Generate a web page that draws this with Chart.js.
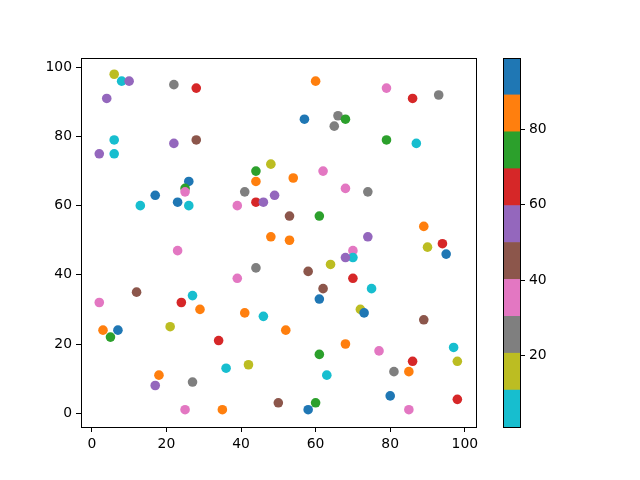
<!DOCTYPE html>
<html lang="en">
<head>
  <meta charset="UTF-8">
  <title>Scatter with colorbar</title>
  <script src="https://cdn.jsdelivr.net/npm/chart.js@4.4.1/dist/chart.umd.min.js"></script>
  <style>
    body { margin: 0; background: #fff; }
    #wrap { position: relative; width: 640px; height: 480px; }
    #wrap canvas { position: absolute; left: 0; top: 0; }
  </style>
</head>
<body>
<div id="wrap">
  <canvas id="scatter" width="640" height="480"></canvas>
  <canvas id="cbar" width="640" height="480"></canvas>
</div>
<script>
// point data (x, y, colour value)
const xVals = [6, 8, 10, 4, 22, 28, 2, 6, 6, 22, 28, 48, 44, 44, 26, 25, 25, 17, 13, 23,
  26, 41, 49, 44, 46, 39, 54, 53, 61, 62, 74, 68, 60, 57, 66, 65, 68, 79, 86, 93,
  79, 87, 89, 94, 95, 90, 74, 70, 70, 68, 64, 58, 53, 48, 23, 44, 39, 62, 61, 70,
  75, 72, 73, 89, 12, 2, 24, 27, 29, 41, 46, 52, 3, 7, 5, 21, 34, 68, 77, 61,
  97, 98, 86, 36, 42, 18, 17, 27, 63, 81, 85, 80, 98, 25, 35, 50, 60, 58, 85];
const yVals = [98, 96, 96, 91, 95, 94, 75, 79, 75, 78, 79, 72, 70, 67, 67, 65, 64, 63, 60, 61,
  60, 64, 63, 61, 61, 60, 68, 57, 57, 70, 64, 65, 96, 85, 86, 83, 85, 94, 91, 92,
  79, 78, 54, 49, 46, 48, 51, 47, 45, 45, 43, 41, 50, 51, 47, 42, 39, 36, 33, 39,
  36, 30, 29, 27, 35, 32, 32, 34, 30, 29, 28, 24, 24, 24, 22, 25, 21, 20, 18, 17,
  19, 15, 15, 13, 14, 11, 8, 9, 11, 12, 12, 5, 4, 1, 1, 3, 3, 1, 1];
const cVals = [15, 5, 55, 55, 25, 65, 55, 5, 5, 55, 45, 15, 75, 85, 95, 75, 35, 95, 5, 95,
  5, 25, 55, 65, 55, 35, 85, 45, 75, 35, 25, 35, 85, 95, 25, 25, 75, 35, 65, 25,
  75, 5, 85, 65, 95, 15, 55, 35, 5, 55, 15, 45, 85, 85, 35, 25, 35, 45, 95, 65,
  5, 15, 95, 45, 45, 35, 65, 5, 85, 85, 5, 85, 85, 95, 75, 15, 65, 85, 35, 75,
  5, 15, 65, 5, 15, 85, 55, 25, 5, 25, 85, 95, 65, 35, 85, 45, 75, 95, 35];

// colour scale (tab10 reversed) and its limits
const cMin = 1;
const cMax = 99;
const palette = ['#17becf', '#bcbd22', '#7f7f7f', '#e377c2', '#8c564b',
  '#9467bd', '#d62728', '#2ca02c', '#ff7f0e', '#1f77b4'];

const xTicks = [0, 20, 40, 60, 80, 100];
const yTicks = [0, 20, 40, 60, 80, 100];
const cbarTicks = [20, 40, 60, 80];

function colourOf(c) {
  var i = Math.floor((c - cMin) / (cMax - cMin) * palette.length);
  return palette[Math.max(0, Math.min(palette.length - 1, i))];
}

// black frame round the plot area
const frame = {
  id: 'frame',
  afterDraw(chart) {
    const a = chart.chartArea, ctx = chart.ctx;
    ctx.save();
    ctx.strokeStyle = '#000';
    ctx.lineWidth = 1;
    ctx.strokeRect(Math.round(a.left) + 0.5, Math.round(a.top) + 0.5,
      Math.round(a.right - a.left), Math.round(a.bottom - a.top));
    ctx.restore();
  }
};

Chart.defaults.font.family = 'DejaVu Sans';
Chart.defaults.font.size = 13.9;
Chart.defaults.color = '#000';

const tickGrid = { drawOnChartArea: false, drawTicks: true, tickLength: 5, color: '#000', lineWidth: 1 };

var points = xVals.map(function(x, i) { return { x: x, y: yVals[i] }; });

new Chart(document.getElementById('scatter'), {
  type: 'scatter',
  data: {
    datasets: [{
      data: points,
      pointBackgroundColor: cVals.map(colourOf),
      pointBorderWidth: 0,
      pointRadius: 4.8,
      pointHoverRadius: 4.8
    }]
  },
  options: {
    responsive: false,
    animation: false,
    layout: { padding: { left: 0, top: 58, right: 164, bottom: 0 } },
    plugins: { legend: { display: false }, tooltip: { enabled: false } },
    scales: {
      x: {
        type: 'linear', min: -2.9, max: 103,
        grid: tickGrid,
        border: { display: false },
        ticks: { padding: 4, maxRotation: 0 },
        afterBuildTicks: function(s) { s.ticks = xTicks.map(function(v) { return { value: v }; }); },
        afterFit: function(s) { s.height = 53; }
      },
      y: {
        type: 'linear', min: -4, max: 102.7,
        grid: tickGrid,
        border: { display: false },
        ticks: { padding: 4 },
        afterBuildTicks: function(s) { s.ticks = yTicks.map(function(v) { return { value: v }; }); },
        afterFit: function(s) { s.width = 81; }
      }
    }
  },
  plugins: [frame]
});

// colorbar: one floating bar per colour band
var bandSize = (cMax - cMin) / palette.length;
new Chart(document.getElementById('cbar'), {
  type: 'bar',
  data: {
    labels: [''],
    datasets: palette.map(function(col, i) {
      return {
        data: [[cMin + i * bandSize, cMin + (i + 1) * bandSize]],
        backgroundColor: col,
        borderWidth: 0,
        categoryPercentage: 1,
        barPercentage: 1
      };
    })
  },
  options: {
    responsive: false,
    animation: false,
    layout: { padding: { left: 503, top: 58, right: 0, bottom: 53 } },
    plugins: { legend: { display: false }, tooltip: { enabled: false } },
    scales: {
      x: { display: false, stacked: true },
      y: {
        position: 'right', min: cMin, max: cMax,
        grid: tickGrid,
        border: { display: false },
        ticks: { padding: 4 },
        afterBuildTicks: function(s) { s.ticks = cbarTicks.map(function(v) { return { value: v }; }); },
        afterFit: function(s) { s.width = 120; }
      }
    }
  },
  plugins: [frame]
});
</script>
</body>
</html>
